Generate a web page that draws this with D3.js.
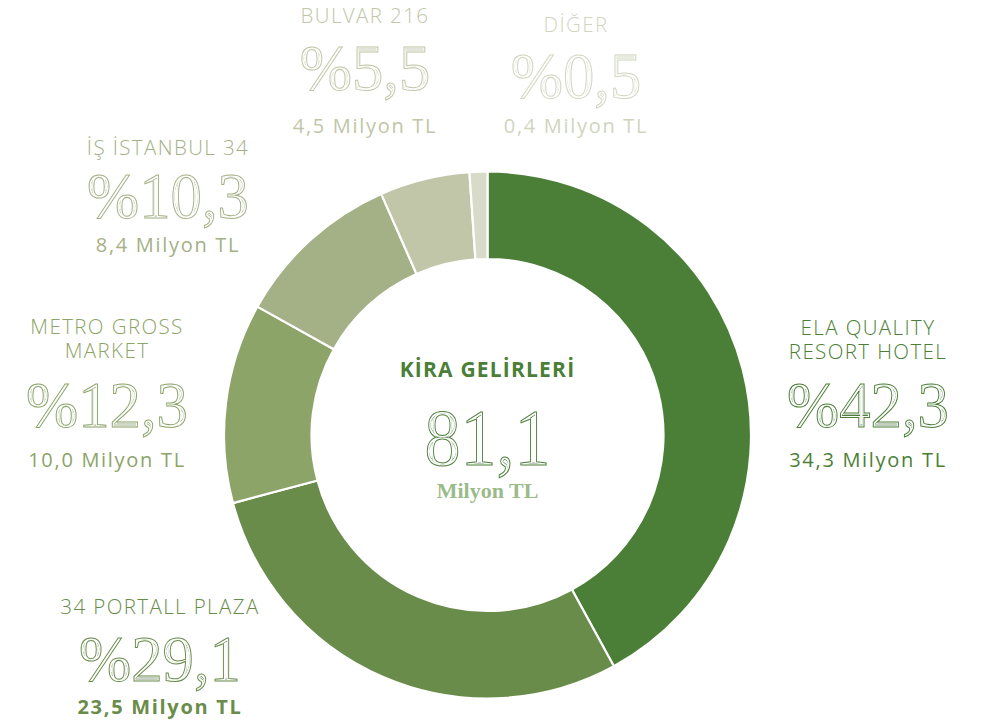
<!DOCTYPE html>
<html>
<head>
<meta charset="utf-8">
<style>
  body { margin: 0; background: #fff; }
  svg { display: block; }
  .name { font-family: 'Open Sans', sans-serif; font-weight: 300; font-size: 20.5px; letter-spacing: 1.4px; }
  .amount { font-family: 'Open Sans', sans-serif; font-weight: 400; font-size: 20px; letter-spacing: 1.7px; }
  .pct { font-family: 'Liberation Serif', 'Times New Roman', serif; }
</style>
</head>
<body>
<svg id="svg"></svg>
<script src="https://cdnjs.cloudflare.com/ajax/libs/d3/7.8.5/d3.min.js"></script>
<script>

// data
const names = [["ELA QUALITY", "RESORT HOTEL"], ["34 PORTALL PLAZA"], ["METRO GROSS", "MARKET"], ["İŞ İSTANBUL 34"], ["BULVAR 216"], ["DİĞER"]];
const amounts = [34.3, 23.5, 10.0, 8.4, 4.5, 0.4];      // Milyon TL
const shares = [42.3, 29.1, 12.3, 10.3, 5.5, 0.5];      // %
const total = 81.1;
const centerTitle = "KİRA GELİRLERİ";
const unit = "Milyon TL";

// styling / layout
const colors = ["#4b7f37", "#6a8c4b", "#8ca468", "#a4b085", "#c0c6a7", "#d8dbc8"];
const textColors = ["#4b7f37", "#6a8c4b", "#8ca468", "#a4b085", "#c0c6a7", "#d0d5bf"];
// label anchor: x centre, baseline of first name line, pct baseline, amount baseline
const labelPos = [
  { x: 868, name: 335, pct: 427, amt: 467 },
  { x: 160, name: 614, pct: 681, amt: 714, bold: true },
  { x: 107, name: 334, pct: 427, amt: 467 },
  { x: 168, name: 155, pct: 218, amt: 252 },
  { x: 365, name: 23,  pct: 90,  amt: 133 },
  { x: 576, name: 32,  pct: 98,  amt: 133 }
];

const width = 986, height = 722;
const cx = 487.5, cy = 435;
const outerR = 263.5, innerR = 176;

const svg = d3.select("#svg").attr("width", width).attr("height", height);
const defs = svg.append("defs");

const fmt = v => d3.format(".1f")(v).replace(".", ",");

const data = amounts.map((a, i) => ({ name: names[i], amount: a, share: shares[i], i: i }));

// tiny slices get a minimum visible angle, like the original
const pie = d3.pie().sort(null).value(d => Math.max(d.amount, total * 0.011));
const arc = d3.arc().innerRadius(innerR).outerRadius(outerR);

const donut = svg.append("g").attr("transform", `translate(${cx},${cy})`);
donut.selectAll("path")
  .data(pie(data))
  .enter().append("path")
  .attr("d", arc)
  .attr("fill", d => colors[d.data.i])
  .attr("stroke", "#fff")
  .attr("stroke-width", 2.2);

// engraved (inline) look: outlined glyph + an inner line drawn by a filter
let filterCount = 0;
function inlineFilter(color) {
  const id = "inl" + (filterCount++);
  const f = defs.append("filter").attr("id", id)
    .attr("x", "-10%").attr("y", "-20%").attr("width", "120%").attr("height", "140%");
  f.append("feMorphology").attr("in", "SourceAlpha").attr("operator", "erode").attr("radius", 1.9).attr("result", "e1");
  f.append("feMorphology").attr("in", "SourceAlpha").attr("operator", "erode").attr("radius", 2.6).attr("result", "e2");
  f.append("feComposite").attr("in", "e1").attr("in2", "e2").attr("operator", "out").attr("result", "ring");
  f.append("feFlood").attr("flood-color", color).attr("result", "col");
  f.append("feComposite").attr("in", "col").attr("in2", "ring").attr("operator", "in").attr("result", "line");
  const m = f.append("feMerge");
  m.append("feMergeNode").attr("in", "SourceGraphic");
  m.append("feMergeNode").attr("in", "line");
  return "url(#" + id + ")";
}

function inlineText(g, x, y, txt, color, size, sx) {
  g.append("text")
    .attr("class", "pct")
    .attr("transform", `translate(${x},${y}) scale(${sx},1)`)
    .attr("text-anchor", "middle")
    .style("font-size", size + "px")
    .attr("fill", "#fff")
    .attr("stroke", color)
    .attr("stroke-width", 1)
    .attr("filter", inlineFilter(color))
    .text(txt);
}

const labels = svg.append("g");
data.forEach((d, i) => {
  const p = labelPos[i];
  const c = textColors[i];
  const nm = labels.append("text")
    .attr("class", "name")
    .attr("y", p.name)
    .attr("text-anchor", "middle")
    .attr("fill", c);
  d.name.forEach((line, k) => {
    nm.append("tspan")
      .attr("x", p.x)
      .attr("dy", k === 0 ? 0 : 24)
      .text(line);
  });
  inlineText(labels, p.x, p.pct, "%" + fmt(d.share), c, 66, 0.95);
  labels.append("text")
    .attr("class", "amount")
    .attr("x", p.x).attr("y", p.amt)
    .attr("text-anchor", "middle")
    .attr("fill", c)
    .style("font-weight", p.bold ? 700 : 400)
    .text(fmt(d.amount) + " " + unit);
});

// centre
svg.append("text")
  .attr("x", cx).attr("y", 377)
  .attr("text-anchor", "middle")
  .attr("fill", "#4b7f37")
  .style("font-family", "'Open Sans', sans-serif")
  .style("font-weight", 700)
  .style("font-size", "21px")
  .style("letter-spacing", "1.2px")
  .text(centerTitle);

inlineText(svg, cx, 465, fmt(total), "#4b7f37", 80, 0.9);

svg.append("text")
  .attr("x", cx).attr("y", 498)
  .attr("text-anchor", "middle")
  .attr("fill", "#9bbb8a")
  .style("font-family", "'Liberation Serif', serif")
  .style("font-weight", 700)
  .style("font-size", "22px")
  .text(unit);

</script>
</body>
</html>
